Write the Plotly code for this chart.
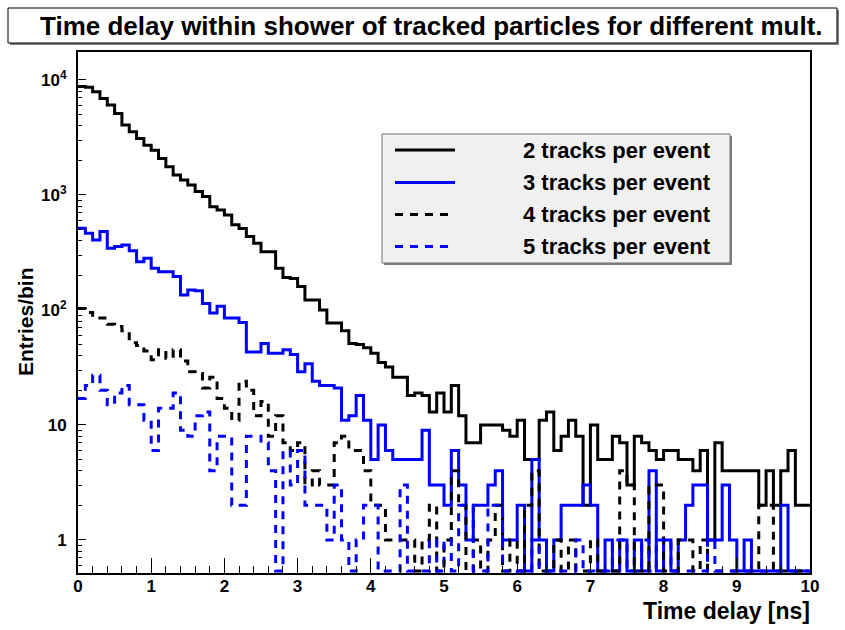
import numpy as np
import plotly.graph_objects as go

# ---- binning of the histograms (ns) ----
x_min, x_max, n_bins = 0.0, 10.0, 100

# ---- entries per bin ----
counts_2 = [8750, 8640, 7900, 6900, 6050, 5100, 4050, 3550, 3100, 2700,
            2450, 2080, 1760, 1490, 1350, 1220, 1070, 970, 790, 740,
            670, 550, 510, 435, 380, 321, 321, 230, 192, 188,
            160, 122, 122, 100, 77, 77, 66, 51, 50, 47,
            42, 35, 32, 26, 26, 18, 19, 18, 13, 19,
            13, 22, 12, 7, 7, 10, 10, 10, 9, 8,
            11, 5, 5, 11, 13, 6, 8, 11, 8, 2,
            10, 5, 5, 8, 7, 3, 8, 7, 6, 5,
            6, 6, 5, 5, 4, 6, 1, 7, 4, 4,
            4, 4, 4, 2, 4, 2, 4, 6, 2, 2]

counts_3 = [513, 464, 406, 480, 344, 356, 367, 328, 263, 281,
            230, 215, 215, 195, 135, 149, 147, 114, 94, 108,
            85, 85, 78, 43, 43, 51, 42, 42, 45, 41,
            29, 34, 24, 22, 22, 21, 11, 12, 18, 11,
            5, 10, 6, 5, 5, 5, 5, 9, 3, 3,
            2, 6, 3, 1, 2, 2, 3, 4, 1, 1,
            2, 0, 5, 1, 0, 1, 2, 2, 2, 3,
            2, 0, 1, 0, 1, 0, 1, 0, 4, 0,
            1, 0, 1, 2, 3, 3, 1, 1, 3, 1,
            0, 1, 0, 0, 0, 0, 2, 0, 0, 0]

counts_4 = [103, 95, 85, 85, 75, 72, 66, 52, 49, 44,
            37, 45, 38, 45, 36, 29, 28, 21, 26, 17,
            14, 11, 24, 20, 12, 16, 8, 12, 7, 6,
            7, 3, 4, 3, 3, 7, 8, 6, 6, 4,
            2, 2, 1, 1, 1, 1, 0, 1, 2, 0,
            1, 4, 2, 0, 1, 0, 1, 2, 0, 1,
            0, 2, 4, 0, 0, 1, 0, 1, 0, 0,
            1, 0, 0, 0, 4, 3, 0, 0, 3, 3,
            0, 0, 1, 1, 0, 1, 0, 0, 0, 0,
            0, 0, 0, 2, 2, 0, 0, 0, 0, 0]

counts_5 = [17, 22, 27, 20, 15, 19, 22, 15, 15, 11,
            6, 14, 14, 19, 9, 8, 12, 13, 4, 8,
            8, 2, 2, 8, 8, 7, 4, 0, 6, 3,
            6, 2, 2, 2, 1, 3, 1, 0, 1, 2,
            2, 0, 0, 0, 3, 0, 0, 0, 1, 0,
            1, 0, 2, 2, 0, 0, 2, 2, 0, 0,
            0, 0, 1, 0, 0, 0, 0, 0, 1, 0,
            0, 0, 0, 1, 1, 0, 0, 1, 0, 1,
            1, 0, 0, 0, 0, 0, 1, 0, 0, 0,
            0, 0, 0, 0, 0, 0, 0, 0, 0, 0]

series_names = ["2 tracks per event", "3 tracks per event",
                "4 tracks per event", "5 tracks per event"]
series_counts = [counts_2, counts_3, counts_4, counts_5]
series_colors = ["#000000", "#0000ff", "#000000", "#0000ff"]
series_dash = ["solid", "solid", "8px,7px", "8px,7px"]

x_tick_vals = list(range(0, 11))
y_tick_vals = [1, 10, 100, 1000, 10000]
y_tick_text = ["1", "10", "10<sup>2</sup>", "10<sup>3</sup>", "10<sup>4</sup>"]

title_text = "Time delay within shower of tracked particles for different mult."
x_title = "Time delay [ns]"
y_title = "Entries/bin"

# ---- layout geometry ----
W, H = 845, 630
L, R, T, B = 78, 35, 52, 57
PW, PH = W - L - R, H - T - B
y_log_range = [-0.287, 4.243]
zero_floor = 10 ** (y_log_range[0] + 0.018)  # empty bins drawn on the frame bottom


def px(xp):
    return (xp - L) / PW


def py(yp):
    return (H - B - yp) / PH


edges = np.linspace(x_min, x_max, n_bins + 1)

fig = go.Figure()
for name, cnt, col, dash in zip(series_names, series_counts, series_colors, series_dash):
    y = [c if c > 0 else zero_floor for c in cnt]
    y = y + [y[-1]]
    fig.add_trace(go.Scatter(x=edges, y=y, mode="lines", name=name,
                             line=dict(color=col, width=3, dash=dash, shape="hv"),
                             showlegend=False, hoverinfo="skip"))

# minor log ticks
minor_vals = [m * 10 ** k for k in range(-1, 5) for m in range(2, 10)
              if y_log_range[0] <= np.log10(m * 10 ** k) <= y_log_range[1]]

font_family = "Liberation Sans, Arial, sans-serif"

fig.update_layout(
    width=W, height=H,
    margin=dict(l=L, r=R, t=T, b=B),
    paper_bgcolor="white", plot_bgcolor="white",
    xaxis=dict(range=[x_min, x_max], tickvals=x_tick_vals, ticks="inside",
               ticklen=15, tickwidth=1, tickcolor="black",
               showline=True, linewidth=2, linecolor="black", mirror=True,
               showgrid=False, zeroline=False, ticklabelstandoff=-3,
               tickfont=dict(family=font_family, size=17, color="black", weight="bold"),
               minor=dict(dtick=0.2, ticks="inside", ticklen=7, tickcolor="black", tickwidth=1)),
    yaxis=dict(type="log", range=y_log_range, tickvals=y_tick_vals, ticktext=y_tick_text,
               ticks="inside", ticklen=8, tickwidth=1, tickcolor="black",
               showline=True, linewidth=2, linecolor="black", mirror=True,
               showgrid=False, zeroline=False, ticklabelstandoff=6,
               tickfont=dict(family=font_family, size=17, color="black", weight="bold"),
               minor=dict(tickvals=minor_vals, ticks="inside", ticklen=4,
                          tickcolor="black", tickwidth=1)),
)

shapes = []
annotations = []

# title box with shadow
tb = (8, 8, 837, 43)
shapes.append(dict(type="rect", xref="paper", yref="paper", layer="below",
                   x0=px(tb[0] + 2), x1=px(tb[2] + 2), y0=py(tb[3] + 2), y1=py(tb[1] + 2),
                   line=dict(width=0), fillcolor="#808080"))
shapes.append(dict(type="rect", xref="paper", yref="paper",
                   x0=px(tb[0]), x1=px(tb[2]), y0=py(tb[3]), y1=py(tb[1]),
                   line=dict(width=1, color="black"), fillcolor="white"))
annotations.append(dict(xref="paper", yref="paper", x=px(431), y=py((tb[1] + tb[3]) / 2),
                        text="<b>" + title_text + "</b>", showarrow=False,
                        xanchor="center", yanchor="middle",
                        font=dict(family=font_family, size=26, color="black")))

# legend box
lb = (382, 134, 730, 263)
shapes.append(dict(type="rect", xref="paper", yref="paper",
                   x0=px(lb[0] + 2), x1=px(lb[2] + 2), y0=py(lb[3] + 2), y1=py(lb[1] + 2),
                   line=dict(width=0), fillcolor="#808080"))
shapes.append(dict(type="rect", xref="paper", yref="paper",
                   x0=px(lb[0]), x1=px(lb[2]), y0=py(lb[3]), y1=py(lb[1]),
                   line=dict(width=1, color="#707070"), fillcolor="#f0f0f0"))
row_y = [150, 182.5, 214.5, 246.5]
for name, col, dash, ry in zip(series_names, series_colors, series_dash, row_y):
    shapes.append(dict(type="line", xref="paper", yref="paper",
                       x0=px(395), x1=px(455), y0=py(ry), y1=py(ry),
                       line=dict(color=col, width=3, dash=dash)))
    annotations.append(dict(xref="paper", yref="paper", x=px(521), y=py(ry),
                            text="<b>" + name + "</b>", showarrow=False,
                            xanchor="left", yanchor="middle",
                            font=dict(family=font_family, size=22, color="black")))

# axis titles
annotations.append(dict(xref="paper", yref="paper", x=px(812), y=py(611),
                        text="<b>" + x_title + "</b>", showarrow=False,
                        xanchor="right", yanchor="middle",
                        font=dict(family=font_family, size=23, color="black")))
annotations.append(dict(xref="paper", yref="paper", x=px(25), y=py(322),
                        text="<b>" + y_title + "</b>", showarrow=False, textangle=-90,
                        xanchor="center", yanchor="middle",
                        font=dict(family=font_family, size=21, color="black")))

fig.update_layout(shapes=shapes, annotations=annotations)
fig.write_html("out.html")
